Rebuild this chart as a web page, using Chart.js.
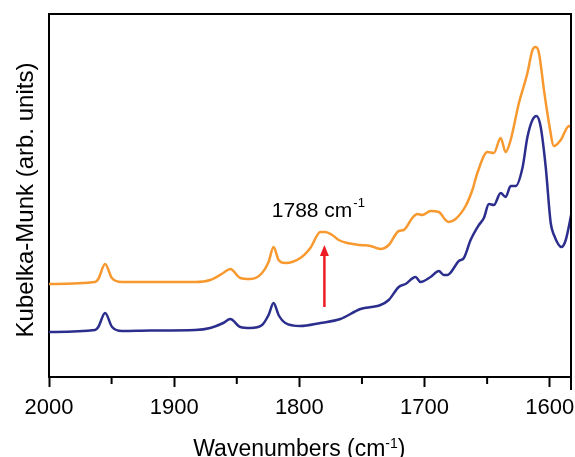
<!DOCTYPE html>
<html>
<head>
<meta charset="utf-8">
<script src="https://cdn.jsdelivr.net/npm/chart.js@4.4.1/dist/chart.umd.min.js"></script>
<style>
  html, body { margin: 0; padding: 0; background: #fff; }
  #wrap { width: 575px; height: 457px; }
</style>
</head>
<body>
<div id="wrap"><canvas id="kmChart" width="575" height="457"></canvas></div>
<script>
  // wavenumbers (cm-1) and Kubelka-Munk values
  const upperWn = [
    2000, 1963.2, 1960.6, 1955.2, 1949.8, 1941.8, 1919.2, 1883.2, 1871.2, 1860.8,
    1855.2, 1847.2, 1839.2, 1829.8, 1824.6, 1820.6, 1816.6, 1811.2, 1799.2, 1791.2,
    1783.2, 1779.2, 1773.8, 1768.6, 1761.8, 1751.2, 1743.2, 1735.2, 1728.6, 1720.6,
    1716.6, 1709.8, 1705.8, 1701.8, 1695.2, 1688.6, 1683.2, 1680.6, 1675.2, 1667.2,
    1661.8, 1657.8, 1649.8, 1644.6, 1639.2, 1635.2, 1631.2, 1624.6, 1617.8, 1613.8,
    1611.2, 1608.6, 1604.6, 1600.6, 1596.6, 1591.2, 1584.6, 1582.4
  ];
  const upperKm = [
    0.93, 0.95, 0.98, 1.13, 0.99, 0.95, 0.95, 0.95, 0.97, 1.04,
    1.08, 0.99, 0.98, 1.04, 1.15, 1.30, 1.17, 1.14, 1.19, 1.29,
    1.45, 1.45, 1.42, 1.37, 1.34, 1.32, 1.31, 1.28, 1.32, 1.46,
    1.47, 1.59, 1.63, 1.62, 1.66, 1.65, 1.57, 1.55, 1.58, 1.71,
    1.87, 2.04, 2.25, 2.24, 2.39, 2.25, 2.37, 2.74, 3.04, 3.27,
    3.30, 3.24, 2.87, 2.54, 2.31, 2.37, 2.51, 2.49
  ];
  const lowerWn = [
    2000, 1963.2, 1960.6, 1955.2, 1949.6, 1941.6, 1919.2, 1883.2, 1871.2, 1860.8,
    1855.2, 1847.2, 1839.2, 1829.8, 1824.6, 1820.6, 1816.6, 1811.2, 1799.2, 1783.2,
    1767.2, 1751.2, 1735.2, 1728.6, 1720.6, 1715.2, 1707.2, 1703.2, 1695.2, 1688.6,
    1684.6, 1681.8, 1672.6, 1668.6, 1663.2, 1656.6, 1652.6, 1648.6, 1644.6, 1639.2,
    1635.2, 1631.2, 1627.2, 1621.8, 1617.8, 1613.8, 1610.6, 1607.2, 1603.2, 1599.2,
    1596.6, 1590.6, 1587.2, 1582.4
  ];
  const lowerKm = [
    0.45, 0.47, 0.50, 0.64, 0.50, 0.46, 0.465, 0.47, 0.49, 0.54,
    0.58, 0.50, 0.49, 0.52, 0.62, 0.74, 0.62, 0.54, 0.51, 0.54,
    0.58, 0.68, 0.72, 0.77, 0.90, 0.93, 1.00, 0.95, 1.00, 1.06,
    1.02, 1.02, 1.16, 1.19, 1.37, 1.52, 1.59, 1.73, 1.72, 1.84,
    1.80, 1.91, 1.91, 2.09, 2.40, 2.57, 2.61, 2.50, 2.10, 1.54,
    1.42, 1.30, 1.37, 1.65
  ];
  const majorTicks = [2000, 1900, 1800, 1700, 1600];
  const minorTicks = [1950, 1850, 1750, 1650];

  // arrow + label for the 1788 band
  const peakText = '1788 cm';
  const arrowWn = 1780;
  const arrowKm = [0.70, 1.32];
  const labelWn = 1822;
  const labelKm = 1.60;

  const FONT = '"Liberation Sans", Arial, sans-serif';

  function toPoints(xs, ys) {
    return xs.map((x, i) => ({ x: x, y: ys[i] }));
  }

  const extras = {
    id: 'extras',
    afterDraw(chart) {
      const { ctx, chartArea: a, scales: { x, y } } = chart;
      ctx.save();

      // top and right frame, minor ticks
      ctx.strokeStyle = '#000';
      ctx.lineWidth = 2;
      ctx.beginPath();
      ctx.moveTo(a.left - 1, a.top);
      ctx.lineTo(a.right, a.top);
      ctx.lineTo(a.right, a.bottom + 13);
      minorTicks.forEach(v => {
        const px = x.getPixelForValue(v);
        ctx.moveTo(px, a.bottom);
        ctx.lineTo(px, a.bottom + 7);
      });
      ctx.stroke();

      // red arrow
      const ax = x.getPixelForValue(arrowWn);
      const y0 = y.getPixelForValue(arrowKm[0]);
      const y1 = y.getPixelForValue(arrowKm[1]);
      ctx.strokeStyle = '#EC1C24';
      ctx.fillStyle = '#EC1C24';
      ctx.lineWidth = 2.5;
      ctx.beginPath();
      ctx.moveTo(ax, y0);
      ctx.lineTo(ax, y1 + 9);
      ctx.stroke();
      ctx.beginPath();
      ctx.moveTo(ax, y1);
      ctx.lineTo(ax - 4.5, y1 + 11);
      ctx.lineTo(ax + 4.5, y1 + 11);
      ctx.closePath();
      ctx.fill();

      // peak label with superscript
      ctx.fillStyle = '#000';
      ctx.textBaseline = 'alphabetic';
      ctx.textAlign = 'left';
      const lx = x.getPixelForValue(labelWn);
      const ly = y.getPixelForValue(labelKm);
      ctx.font = '21px ' + FONT;
      ctx.fillText(peakText, lx, ly);
      const lw = ctx.measureText(peakText).width;
      ctx.font = '13px ' + FONT;
      ctx.fillText('-1', lx + lw + 1, ly - 10);

      // x axis title with superscript
      const t1 = 'Wavenumbers (cm', t2 = '-1', t3 = ')';
      ctx.font = '23px ' + FONT;
      const w1 = ctx.measureText(t1).width, w3 = ctx.measureText(t3).width;
      ctx.font = '14px ' + FONT;
      const w2 = ctx.measureText(t2).width;
      const cx = (x.getPixelForValue(2000) + x.getPixelForValue(1600)) / 2;
      let tx = cx - (w1 + w2 + w3) / 2;
      const ty = 456;
      ctx.font = '23px ' + FONT;
      ctx.fillText(t1, tx, ty);
      tx += w1;
      ctx.font = '14px ' + FONT;
      ctx.fillText(t2, tx, ty - 8);
      tx += w2;
      ctx.font = '23px ' + FONT;
      ctx.fillText(t3, tx, ty);

      // y axis title
      ctx.translate(26, 200);
      ctx.rotate(-Math.PI / 2);
      ctx.textAlign = 'center';
      ctx.textBaseline = 'middle';
      ctx.font = '24px ' + FONT;
      ctx.fillText('Kubelka-Munk (arb. units)', 0, 0);

      ctx.restore();
    }
  };

  new Chart(document.getElementById('kmChart'), {
    type: 'line',
    data: {
      datasets: [
        {
          label: 'upper',
          data: toPoints(upperWn, upperKm),
          borderColor: '#F7992F',
          borderWidth: 2.5,
          pointRadius: 0,
          cubicInterpolationMode: 'monotone',
          fill: false
        },
        {
          label: 'lower',
          data: toPoints(lowerWn, lowerKm),
          borderColor: '#2B2E8C',
          borderWidth: 2.5,
          pointRadius: 0,
          cubicInterpolationMode: 'monotone',
          fill: false
        }
      ]
    },
    options: {
      responsive: false,
      animation: false,
      devicePixelRatio: 1,
      layout: { padding: { top: 14, right: 4, left: 0, bottom: 0 } },
      plugins: {
        legend: { display: false },
        tooltip: { enabled: false }
      },
      scales: {
        x: {
          type: 'linear',
          reverse: true,
          min: 1583,
          max: 2000,
          afterBuildTicks: s => { s.ticks = majorTicks.map(v => ({ value: v })); },
          afterFit: s => { s.height = 80; s.paddingLeft = 0; s.paddingRight = 0; },
          ticks: {
            color: '#000',
            font: { family: FONT, size: 22, lineHeight: 1 },
            padding: 10,
            maxRotation: 0,
            autoSkip: false,
            callback: v => String(v)
          },
          grid: { drawOnChartArea: false, drawTicks: true, tickLength: 10, tickColor: '#000', tickWidth: 2 },
          border: { display: true, color: '#000', width: 2 }
        },
        y: {
          min: 0,
          max: 3.63,
          afterFit: s => { s.width = 49; },
          ticks: { display: false },
          grid: { display: false },
          border: { display: true, color: '#000', width: 2 }
        }
      }
    },
    plugins: [extras]
  });
</script>
</body>
</html>
